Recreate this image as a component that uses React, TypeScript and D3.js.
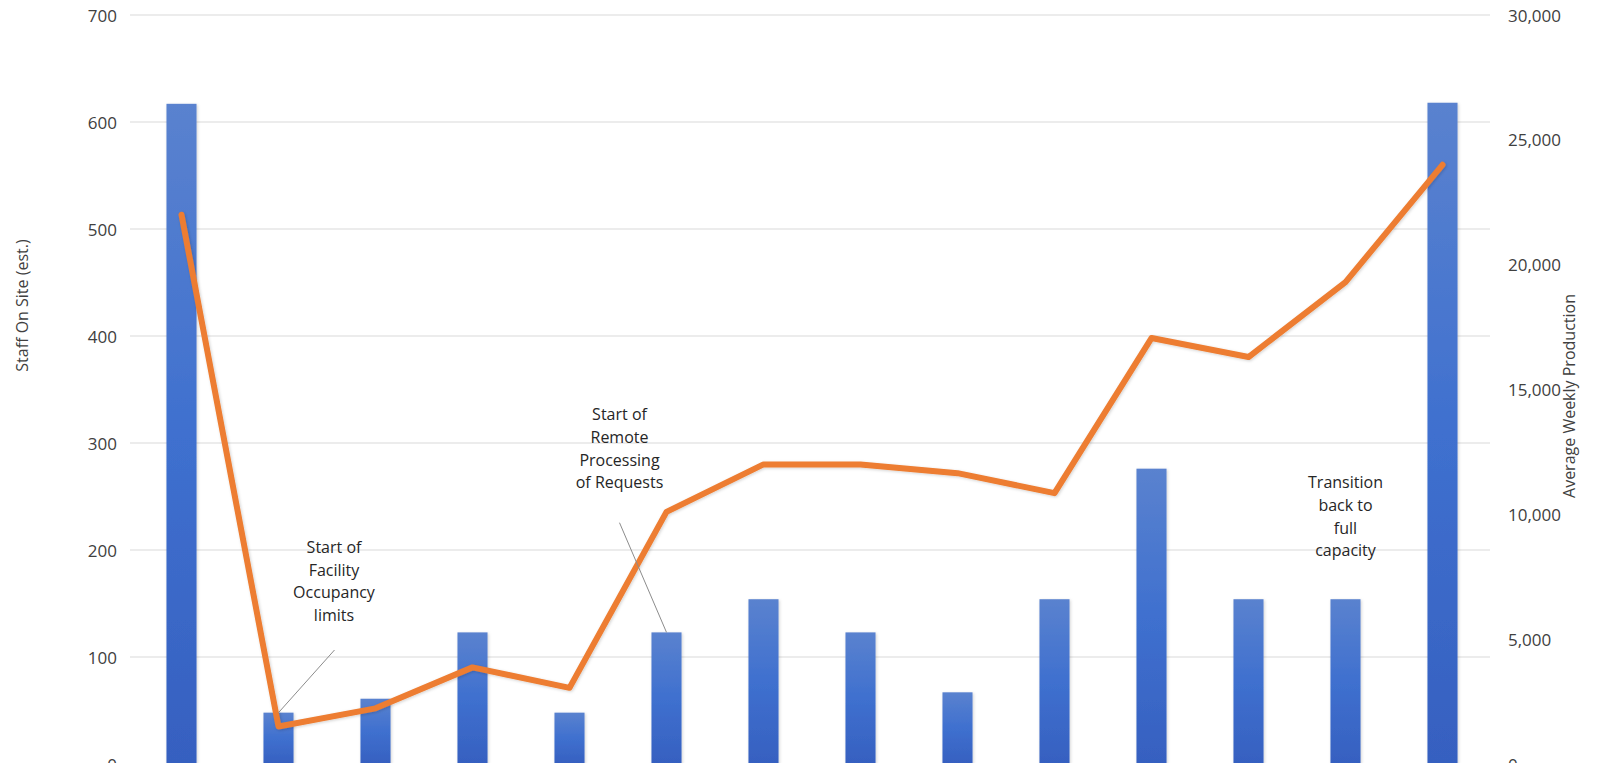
import React from "react";
import * as d3 from "d3";

const categories = ["P1","P2","P3","P4","P5","P6","P7","P8","P9","P10","P11","P12","P13","P14"];
const staffOnSite = [617, 48, 61, 123, 48, 123, 154, 123, 67, 154, 276, 154, 154, 618];
const weeklyProduction = [22000, 1500, 2230, 3870, 3050, 10100, 12000, 12000, 11650, 10850, 17060, 16300, 19300, 24000];
const leftTicks = [0, 100, 200, 300, 400, 500, 600, 700];
const rightTicks = [0, 5000, 10000, 15000, 20000, 25000, 30000];

const annotations = [
  { cat: "P2", dx: 55.5, lines: ["Start of", "Facility", "Occupancy", "limits"], top: 546.7, leader: true, ldx: 56, ldy: 650 },
  { cat: "P6", dx: -47, lines: ["Start of", "Remote", "Processing", "of Requests"], top: 414, leader: true, ldx: -47, ldy: 522.7 },
  { cat: "P13", dx: 0, lines: ["Transition", "back to", "full", "capacity"], top: 482, leader: false, ldx: 0, ldy: 0 },
];

const W = 1606, H = 763;
const FONT = "'Open Sans', 'Noto Sans', sans-serif";

export default function App() {
  const x = d3.scaleBand<string>().domain(categories).range([133, 1491]).paddingInner(0.69).paddingOuter(0.345);
  const yL = d3.scaleLinear().domain([0, 700]).range([764, 15]);
  const yR = d3.scaleLinear().domain([0, 30000]).range([764, 15]);
  const fmt = d3.format(",");
  const cx = (c: string) => (x(c) as number) + x.bandwidth() / 2;

  const line = d3.line<number>()
    .x((_, i) => cx(categories[i]))
    .y((d) => yR(d));

  const lineH = 22.8;

  return (
    <svg width={W} height={H} style={{ position: "absolute", left: 0, top: 0, background: "#fff" }} fontFamily={FONT}>
      <defs>
        <linearGradient id="barGrad" x1="0" y1="0" x2="0" y2="1">
          <stop offset="0%" stopColor="#5a82cf" />
          <stop offset="50%" stopColor="#3f70cf" />
          <stop offset="100%" stopColor="#3660c0" />
        </linearGradient>
        <filter id="shadow" x="-30%" y="-5%" width="160%" height="110%">
          <feDropShadow dx="1" dy="1" stdDeviation="1.5" floodColor="#000" floodOpacity="0.18" />
        </filter>
      </defs>
      <g>
        {leftTicks.map((t) => (
          <line key={t} x1={130} x2={1490} y1={yL(t)} y2={yL(t)} stroke="#d9d9d9" strokeWidth={1} />
        ))}
      </g>
      <g>
        {leftTicks.map((t) => (
          <text key={t} x={117} y={yL(t)} textAnchor="end" dominantBaseline="central" fontSize={17} fill="#404040">{t}</text>
        ))}
      </g>
      <g>
        {rightTicks.map((t) => (
          <text key={t} x={1508} y={yR(t)} textAnchor="start" dominantBaseline="central" fontSize={17} fill="#404040">{fmt(t)}</text>
        ))}
      </g>
      <g filter="url(#shadow)">
        {categories.map((c, i) => (
          <rect key={c} x={x(c)} y={yL(staffOnSite[i])} width={x.bandwidth()} height={yL(0) - yL(staffOnSite[i])} fill="url(#barGrad)" />
        ))}
      </g>
      <path d={line(weeklyProduction) || ""} fill="none" stroke="#ed7d31" strokeWidth={6} strokeLinejoin="round" strokeLinecap="round" filter="url(#shadow)" />
      {annotations.map((a, k) => {
        const i = categories.indexOf(a.cat);
        const bx = cx(a.cat);
        return (
          <g key={k}>
            {a.leader && (
              <line x1={bx + a.ldx} y1={a.ldy} x2={bx} y2={yL(staffOnSite[i])} stroke="#8c8c8c" strokeWidth={1} />
            )}
            {a.lines.map((l, j) => (
              <text key={j} x={bx + a.dx} y={a.top + j * lineH} textAnchor="middle" dominantBaseline="central" fontSize={16} fill="#262626">{l}</text>
            ))}
          </g>
        );
      })}
      <text transform={`translate(22,305.5) rotate(-90)`} textAnchor="middle" dominantBaseline="central" fontSize={16} fill="#404040">Staff On Site (est.)</text>
      <text transform={`translate(1569,396) rotate(-90)`} textAnchor="middle" dominantBaseline="central" fontSize={16} fill="#404040">Average Weekly Production</text>
    </svg>
  );
}
